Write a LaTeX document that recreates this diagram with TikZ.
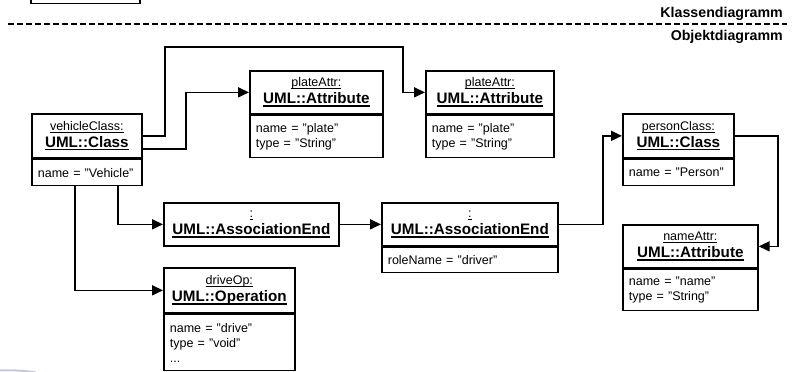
\documentclass[tikz,border=0pt]{standalone}
\usepackage{fontspec}
\setmainfont{Liberation Sans}
\usetikzlibrary{arrows.meta}

% underlined object names and bold underlined type names
\newsavebox\ulbox
\newcommand\ulname[1]{\leavevmode\sbox\ulbox{#1}\rlap{\rule[-2.2pt]{\wd\ulbox}{0.8pt}}\usebox\ulbox}
\newcommand\ultitle[1]{\leavevmode\sbox\ulbox{\fontsize{15.2}{17}\selectfont\bfseries #1}\rlap{\rule[-3pt]{\wd\ulbox}{1.5pt}}\usebox\ulbox}

\tikzset{
  hdr/.style={draw, line width=1.7pt, anchor=north west, inner sep=0pt,
    align=center, font=\fontsize{12.5}{17}\selectfont},
  attr/.style={draw, line width=1.7pt, anchor=north west, inner xsep=6pt,
    inner ysep=0pt, align=left, font=\fontsize{12.5}{15}\selectfont},
  conn/.style={line width=1.7pt, -{Triangle[length=11pt,width=10pt]}},
  sect/.style={anchor=east, inner sep=0pt, font=\fontsize{14.2}{16}\selectfont\bfseries},
}

\begin{document}
\begin{tikzpicture}[x=1pt,y=-1pt]
\useasboundingbox (0,0) rectangle (795,372);
\clip (0,0) rectangle (795,372);

% remnant of a class box above the separator
\draw[line width=1.4pt] (31,-10) rectangle (140,3.5);

% separator between class and object diagram
\draw[line width=1.7pt, dash pattern=on 6pt off 3pt] (8,24) -- (787,24);
\node[sect] (kd) at (783,14) {Klassendiagramm};
\node[sect] (od) at (783,37) {Objektdiagramm};

% objects
\node[hdr, text width=110pt, minimum height=44pt] (vc) at (31,113)
  {\ulname{vehicleClass:}\\\ultitle{UML::Class}};
\node[attr, text width=98pt, minimum height=26pt] (vca) at (vc.south west)
  {name = "Vehicle"};

\node[hdr, text width=133pt, minimum height=43pt] (pa1) at (249,70)
  {\ulname{plateAttr:}\\\ultitle{UML::Attribute}};
\node[attr, text width=121pt, minimum height=42pt] (pa1a) at (pa1.south west)
  {name = "plate"\\type = "String"};

\node[hdr, text width=128pt, minimum height=43pt] (pa2) at (425,70)
  {\ulname{plateAttr:}\\\ultitle{UML::Attribute}};
\node[attr, text width=116pt, minimum height=42pt] (pa2a) at (pa2.south west)
  {name = "plate"\\type = "String"};

\node[hdr, text width=111pt, minimum height=44pt] (pc) at (622,113)
  {\ulname{personClass:}\\\ultitle{UML::Class}};
\node[attr, text width=99pt, minimum height=26pt] (pca) at (pc.south west)
  {name = "Person"};

\node[hdr, text width=135pt, minimum height=43pt] (na) at (622,224)
  {\ulname{nameAttr:}\\\ultitle{UML::Attribute}};
\node[attr, text width=123pt, minimum height=41pt] (naa) at (na.south west)
  {name = "name"\\type = "String"};

\node[hdr, text width=175pt, minimum height=43pt] (ae1) at (163,202)
  {\ulname{:}\\\ultitle{UML::AssociationEnd}};

\node[hdr, text width=176pt, minimum height=43pt] (ae2) at (381,202)
  {\ulname{:}\\\ultitle{UML::AssociationEnd}};
\node[attr, text width=164pt, minimum height=25pt] (ae2a) at (ae2.south west)
  {roleName = "driver"};

\node[hdr, text width=131pt, minimum height=45pt] (do) at (163,267)
  {\ulname{driveOp:}\\\ultitle{UML::Operation}};
\node[attr, text width=119pt, minimum height=56pt] (doa) at (do.south west)
  {name = "drive"\\type = "void"\\...};

% links
\draw[conn] (vc.east) -- ++(22,0) |- (403,47) |- (pa2.west);
\draw[conn] ([yshift=-13pt]vc.east) -- ++(43,0) |- (pa1.west);
\draw[conn] ([xshift=87pt]vca.south west) |- (ae1.west);
\draw[conn] ([xshift=44pt]vca.south west) |- (do.west);
\draw[conn] (ae1.east) -- (ae2.west);
\draw[conn] (ae2.east) -- ++(44,0) |- (pc.west);
\draw[conn] (pc.east) -- ++(43,0) |- (na.east);

% faint stroke at the lower left corner
\draw[line width=2pt, color={rgb,255:red,200;green,200;blue,220}]
  (-2,370.5) .. controls (12,370) and (24,370.5) .. (36,372.5);
\end{tikzpicture}
\end{document}
